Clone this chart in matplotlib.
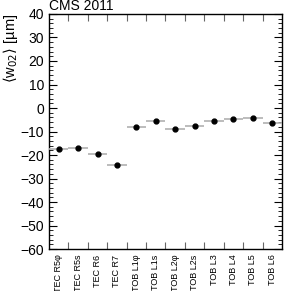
import matplotlib
matplotlib.use("Agg")
import matplotlib.pyplot as plt
import numpy as np
from matplotlib.ticker import MultipleLocator, FixedLocator

plt.rcParams['font.family'] = ['Liberation Sans', 'DejaVu Sans']

categories = ["TEC R5φ", "TEC R5s", "TEC R6", "TEC R7", "TOB L1φ", "TOB L1s",
              "TOB L2φ", "TOB L2s", "TOB L3", "TOB L4", "TOB L5", "TOB L6"]
values = [-17.3, -17.1, -19.7, -24.4, -8.1, -5.4, -8.8, -7.7, -5.5, -4.5, -4.1, -6.3]

fig = plt.figure(figsize=(3.03, 2.91), dpi=100)
ax = fig.add_axes([0.1617, 0.1443, 0.769, 0.8076])

n = len(categories)
x = np.arange(n) + 0.5
ax.errorbar(x, values, xerr=0.5, fmt='o', color='black', ecolor='#b0b0b0',
            elinewidth=1.2, markersize=3.5, capsize=0, zorder=3)

ax.set_xlim(0, n)
ax.set_ylim(-60, 40)
ax.xaxis.set_major_locator(FixedLocator(np.arange(1, n)))
ax.set_xticklabels([])
ax.set_xticks(x, minor=True)
ax.set_xticklabels(categories, minor=True, rotation=90, fontsize=6.5)
ax.tick_params(axis='x', which='minor', length=0, pad=4)
ax.tick_params(axis='x', which='major', direction='in', length=5, top=True, bottom=True,
               color='#666666', width=0.8)
ax.yaxis.set_major_locator(MultipleLocator(10))
ax.yaxis.set_minor_locator(MultipleLocator(2))
ax.tick_params(axis='y', which='major', direction='in', length=6, left=True, right=True,
               labelsize=10, width=0.8)
ax.tick_params(axis='y', which='minor', direction='in', length=3, left=True, right=True,
               width=0.6)
for s in ax.spines.values():
    s.set_linewidth(1.0)

ax.set_ylabel(r"$\langle$w$_{02}\rangle$ [µm]", fontsize=10.5, loc='top', labelpad=0)
ax.text(0.0, 1.005, "CMS 2011", transform=ax.transAxes, fontsize=10, ha='left', va='bottom')

fig.savefig("out.png", dpi=100)
